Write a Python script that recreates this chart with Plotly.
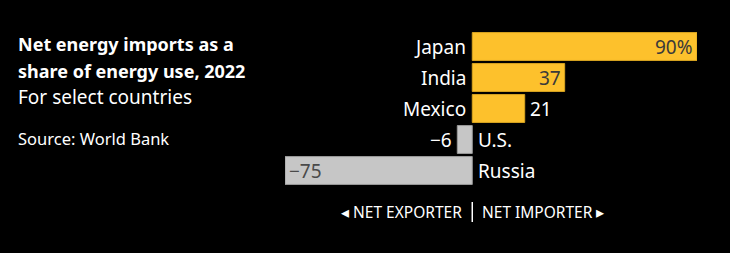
import plotly.graph_objects as go

countries = ["Japan", "India", "Mexico", "U.S.", "Russia"]
values = [90, 37, 21, -6, -75]
value_labels = ["90%", "37", "21", "−6", "−75"]
label_inside = [True, True, False, False, True]

YELLOW = "#FDC12C"
GRAY = "#C6C6C6"
FONT = "Noto Sans"
LBL = 19

colors = [YELLOW if v > 0 else GRAY for v in values]
line_colors = ["#D9A420" if v > 0 else "#9A9A9A" for v in values]

fig = go.Figure()
fig.add_trace(go.Bar(
    x=values, y=countries, orientation="h",
    marker=dict(color=colors, line=dict(color=line_colors, width=1)),
    hoverinfo="skip",
))

annotations = []
for c, v, lab, inside in zip(countries, values, value_labels, label_inside):
    if v > 0:
        annotations.append(dict(x=0, y=c, xref="x", yref="y", text=c, showarrow=False,
                                xanchor="right", xshift=-4, font=dict(size=LBL, color="#FFFFFF", family=FONT)))
    else:
        annotations.append(dict(x=0, y=c, xref="x", yref="y", text=c, showarrow=False,
                                xanchor="left", xshift=4, font=dict(size=LBL, color="#FFFFFF", family=FONT)))
    if inside:
        if v > 0:
            annotations.append(dict(x=v, y=c, xref="x", yref="y", text=lab, showarrow=False,
                                    xanchor="right", xshift=-2, font=dict(size=LBL, color="#3A3A3A", family=FONT)))
        else:
            annotations.append(dict(x=v, y=c, xref="x", yref="y", text=lab, showarrow=False,
                                    xanchor="left", xshift=2, font=dict(size=LBL, color="#4A4A4A", family=FONT)))
    else:
        if v > 0:
            annotations.append(dict(x=v, y=c, xref="x", yref="y", text=lab, showarrow=False,
                                    xanchor="left", xshift=3, font=dict(size=LBL, color="#FFFFFF", family=FONT)))
        else:
            annotations.append(dict(x=v, y=c, xref="x", yref="y", text=lab, showarrow=False,
                                    xanchor="right", xshift=-3, font=dict(size=LBL, color="#FFFFFF", family=FONT)))

W, H = 730, 253
ML, MR, MT, MB = 285, 33, 31, 67
PW, PH = W - ML - MR, H - MT - MB


def px2paper(px, py):
    return (px - ML) / PW, 1 - (py - MT) / PH


title_items = [
    ("<b>Net energy imports as a</b>", 44, 18),
    ("<b>share of energy use, 2022</b>", 71, 18),
    ("For select countries", 97, 19),
    ("Source: World Bank", 138, 16.5),
]
for text, py, size in title_items:
    x, y = px2paper(16, py)
    annotations.append(dict(x=x, y=y, xref="paper", yref="paper", text=text, showarrow=False,
                            xanchor="left", yanchor="middle", font=dict(size=size, color="#FFFFFF", family=FONT)))

_, ly = px2paper(0, 212)
annotations += [
    dict(x=0, y=ly, xref="x", yref="paper", text="◂ NET EXPORTER", showarrow=False,
         xanchor="right", xshift=-8, yanchor="middle", font=dict(size=15.5, color="#FFFFFF", family=FONT)),
    dict(x=0, y=ly, xref="x", yref="paper", text="NET IMPORTER ▸", showarrow=False,
         xanchor="left", xshift=8, yanchor="middle", font=dict(size=15.5, color="#FFFFFF", family=FONT)),
]

fig.add_shape(type="line", x0=0, x1=0, xref="x", yref="paper",
              y0=px2paper(0, 202)[1], y1=px2paper(0, 222)[1],
              line=dict(color="#FFFFFF", width=1.5))

fig.update_layout(
    width=W, height=H,
    margin=dict(l=ML, r=MR, t=MT, b=MB, pad=0),
    paper_bgcolor="#000000", plot_bgcolor="#000000",
    showlegend=False, bargap=0.1,
    xaxis=dict(range=[-75, 90], visible=False, fixedrange=True),
    yaxis=dict(autorange="reversed", visible=False, fixedrange=True),
    annotations=annotations,
)

fig.write_html("out.html", config={"displayModeBar": False})
